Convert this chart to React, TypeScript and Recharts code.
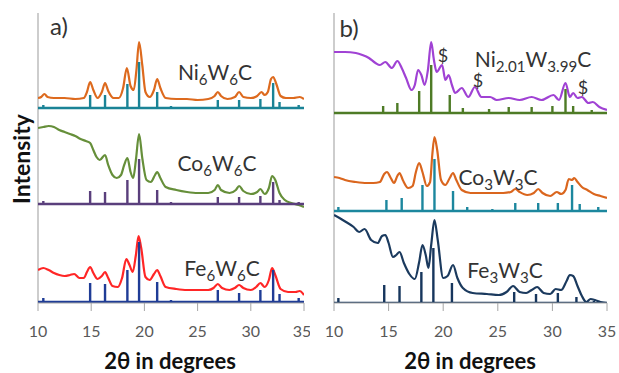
import React from 'react';
import { ComposedChart, Line, XAxis, YAxis, ReferenceLine } from 'recharts';

type Pt = [number, number];

// panel a) measured patterns (2θ, intensity offset)
const ni6w6c: Pt[] = [
  [10, 205], [10.3, 206], [10.6, 209], [10.9, 206], [11.5, 205], [12.5, 205], [13.5, 204], [14.3, 205],
  [14.6, 211], [14.9, 221], [15.2, 213], [15.6, 205], [16.0, 211], [16.3, 220], [16.6, 212], [17.1, 205],
  [17.6, 205], [18.0, 215], [18.35, 235], [18.7, 217], [19.0, 213], [19.25, 233], [19.5, 261], [19.8, 238],
  [20.1, 211], [20.5, 206], [20.9, 213], [21.2, 224], [21.5, 215], [22.0, 205], [23, 204], [24, 204],
  [25, 203], [26, 204], [26.6, 207], [26.9, 211], [27.2, 207], [27.8, 204], [28.5, 206], [28.9, 211],
  [29.3, 206], [30, 205], [30.6, 207], [31.0, 211], [31.3, 208], [31.6, 211], [31.9, 224], [32.1, 226],
  [32.4, 219], [32.8, 207], [33.3, 205], [34, 205], [34.6, 206], [35, 204],
];
const co6w6c: Pt[] = [
  [10, 175], [10.5, 176], [11, 177], [11.5, 176], [12, 173], [12.5, 171], [13, 169], [13.5, 167],
  [14, 164], [14.5, 162], [14.9, 160], [15.2, 153], [15.5, 146], [15.8, 143], [16.3, 148], [16.6, 138],
  [17.0, 128], [17.4, 125], [17.8, 128], [18.1, 138], [18.4, 145], [18.7, 131], [18.95, 125], [19.2, 143],
  [19.5, 169], [19.8, 145], [20.2, 123], [20.6, 121], [21.0, 128], [21.2, 131], [21.5, 125], [22.0, 116],
  [23, 113], [24, 111], [25, 110], [26, 110], [26.6, 113], [26.9, 118], [27.2, 113], [28, 110],
  [28.6, 113], [28.9, 117], [29.3, 112], [30, 109], [30.6, 111], [30.9, 114], [31.3, 109], [31.7, 115],
  [32.0, 127], [32.3, 123], [32.7, 110], [33.2, 103], [33.8, 100], [34.5, 98], [35, 96],
];
const fe6w6c: Pt[] = [
  [10, 33], [10.5, 35], [11, 33], [11.5, 30], [12, 28], [12.5, 27], [13.0, 28], [13.4, 29],
  [13.9, 25], [14.3, 25], [14.6, 31], [14.9, 36], [15.2, 30], [15.6, 24], [16.0, 27], [16.3, 31],
  [16.6, 25], [17.0, 17], [17.5, 16], [17.9, 25], [18.3, 44], [18.6, 38], [18.9, 31], [19.2, 48],
  [19.45, 67], [19.7, 55], [20.1, 26], [20.5, 23], [20.9, 29], [21.2, 33], [21.5, 27], [22, 16],
  [23, 14], [24, 13], [25, 13], [26, 13], [26.5, 15], [26.9, 19], [27.3, 15], [28, 13],
  [28.5, 15], [28.9, 18], [29.3, 15], [30, 13], [30.5, 16], [30.9, 20], [31.3, 16], [31.7, 23],
  [32.0, 35], [32.3, 28], [32.8, 14], [33.5, 11], [34.2, 11], [34.6, 12], [35, 8],
];

// panel a) reference sticks
const stickXa = [10.5, 14.9, 16.3, 18.4, 19.5, 21.2, 22.5, 26.9, 28.9, 30.9, 32.1, 32.7, 34.5];
const ni6w6cRef = [198, 208, 208, 219, 241, 211, 197, 203, 203, 204, 220, 201, 198];
const ni6w6cBase = 195;
const co6w6cRef = [102, 112, 111, 123, 144, 113, 101, 106, 106, 107, 121, 103, 101];
const co6w6cBase = 99;
const fe6w6cRef = [5, 20, 19, 33, 61, 21, 3, 13, 10, 13, 33, 9, 5];
const fe6w6cBase = 1;

// panel b) measured patterns
const ni2w4c: Pt[] = [
  [10, 251], [11, 251], [12, 250], [12.6, 248], [13.2, 245], [13.8, 240], [14.2, 238], [14.7, 241],
  [15.3, 235], [15.8, 242], [16.2, 235], [16.6, 225], [17.1, 213], [17.4, 218], [17.7, 233], [18.0, 228],
  [18.3, 218], [18.6, 233], [18.9, 261], [19.15, 243], [19.4, 231], [19.9, 238], [20.2, 223], [20.5, 228],
  [20.8, 218], [21.1, 210], [21.7, 215], [22.3, 206], [22.9, 216], [23.5, 206], [24.3, 206], [24.9, 203],
  [26.0, 205], [27.0, 203], [28.1, 206], [29.0, 203], [30.1, 208], [30.6, 203], [31.2, 220], [31.6, 206],
  [31.9, 210], [32.3, 205], [32.7, 206], [33.3, 200], [33.7, 201], [34.3, 196], [35, 193],
];
const co3w3c: Pt[] = [
  [10, 126], [10.5, 125], [11, 123], [12, 121], [13, 120], [13.6, 120], [14.2, 121], [14.6, 129],
  [14.85, 131], [15.2, 125], [15.5, 120], [15.8, 127], [16.0, 130], [16.3, 123], [16.8, 115], [17.2, 117],
  [17.5, 131], [17.8, 140], [18.1, 131], [18.5, 117], [18.8, 121], [19.0, 148], [19.2, 166], [19.45, 153],
  [19.8, 123], [20.2, 118], [20.6, 125], [20.9, 130], [21.2, 123], [21.7, 113], [22.5, 110], [23.5, 110],
  [24.5, 110], [25.5, 110], [26.2, 111], [26.6, 114], [27.0, 111], [27.7, 108], [28.3, 110], [28.7, 114],
  [29.1, 110], [29.8, 107], [30.4, 111], [30.8, 109], [31.2, 113], [31.5, 124], [31.8, 123], [32.0, 125],
  [32.3, 121], [32.7, 116], [33.2, 113], [33.8, 109], [34.4, 107], [35, 105],
];
const fe3w3c: Pt[] = [
  [10, 88], [10.5, 85], [11.1, 81], [11.8, 76], [12.3, 71], [12.8, 74], [13.4, 63], [14.0, 60],
  [14.4, 67], [14.7, 68], [15.0, 60], [15.4, 46], [15.7, 48], [16.0, 51], [16.4, 40], [16.9, 29],
  [17.4, 24], [17.8, 41], [18.1, 58], [18.4, 48], [18.65, 35], [18.9, 58], [19.2, 83], [19.5, 63],
  [20.0, 25], [20.4, 27], [20.9, 38], [21.3, 25], [21.8, 15], [22.7, 10], [24, 9], [25.1, 8],
  [25.8, 11], [26.4, 17], [27.0, 11], [27.6, 10], [28.1, 13], [28.6, 16], [29.2, 10], [29.8, 9],
  [30.3, 14], [30.8, 13], [31.3, 22], [31.6, 28], [31.9, 27], [32.3, 17], [32.7, 7], [33.1, 1],
  [33.5, 4], [33.9, 3], [34.4, 1], [35, 0],
];

// panel b) reference sticks
const ni2w4cRefX = [14.5, 15.8, 17.8, 18.9, 20.6, 21.8, 24.2, 26.0, 28.1, 30.0, 31.2, 31.9, 33.6];
const ni2w4cRef = [197, 200, 212, 238, 208, 195, 194, 196, 196, 197, 214, 197, 193];
const ni2w4cBase = 190;
const co3w3cRefX = [10.4, 14.8, 16.2, 18.1, 19.2, 20.9, 22.2, 24.5, 26.6, 28.7, 30.5, 31.8, 32.5, 34.2];
const co3w3cRef = [96, 103, 105, 118, 144, 112, 96, 94, 100, 100, 100, 118, 99, 96];
const co3w3cBase = 92;
const fe3w3cRefX = [10.4, 14.6, 16.0, 18.0, 19.1, 20.8, 26.5, 28.5, 30.5, 32.2, 33.8];
const fe3w3cRef = [5, 18, 17, 31, 55, 20, 11, 9, 10, 6, 2];
const fe3w3cBase = 0;

const xTicks = [10, 15, 20, 25, 30, 35];

const curve = (pts: Pt[]) => pts.map(([x, y]) => ({ x, y }));
const sticks = (xs: number[], tops: number[], base: number) => {
  const out = [{ x: 10, y: base }];
  xs.forEach((x, i) => {
    out.push({ x, y: base }, { x, y: tops[i] }, { x, y: base });
  });
  out.push({ x: 35, y: base });
  return out;
};

const FONT = 'Lato, "Open Sans", sans-serif';
const TEXT = '#333';

const Panel = ({ width, margin, series }: { width: number; margin: any; series: { data: any[]; color: string; stick?: boolean }[] }) => (
  <ComposedChart width={width} height={373} margin={margin}>
    <XAxis
      dataKey="x"
      type="number"
      domain={[10, 35]}
      ticks={xTicks}
      allowDataOverflow
      height={40}
      tickSize={8}
      tickMargin={15}
      stroke="#A6A6A6"
      tick={{ fill: '#595959', fontSize: 16, fontFamily: FONT }}
    />
    <YAxis type="number" domain={[0, 290]} hide allowDataOverflow />
    <ReferenceLine x={10} stroke="#BDBDBD" strokeWidth={1.5} />
    {series.map((s, i) => (
      <Line
        key={i}
        data={s.data}
        dataKey="y"
        type={s.stick ? 'linear' : 'monotone'}
        stroke={s.color}
        strokeWidth={s.stick ? 2.4 : 2.2}
        dot={false}
        activeDot={false}
        isAnimationActive={false}
      />
    ))}
  </ComposedChart>
);

const Label = ({ x, y, children, size = 21, bold = false, rotate = false, color = TEXT }: any) => (
  <div
    style={{
      position: 'absolute',
      left: x,
      top: y,
      transform: `translate(-50%, -50%)${rotate ? ' rotate(-90deg)' : ''}`,
      fontFamily: FONT,
      fontSize: size,
      fontWeight: bold ? 700 : 400,
      color,
      whiteSpace: 'nowrap',
      lineHeight: 1,
    }}
  >
    {children}
  </div>
);

const Sub = ({ children }: any) => (
  <span style={{ fontSize: '0.72em', position: 'relative', top: '0.3em' }}>{children}</span>
);

export default function App() {
  return (
    <div style={{ position: 'absolute', left: 0, top: 0, width: 619, height: 373, background: '#fff', overflow: 'hidden' }}>
      <div style={{ position: 'absolute', left: 0, top: 0 }}>
        <Panel
          width={310}
          margin={{ top: 13, left: 38, right: 6, bottom: 30 }}
          series={[
            { data: curve(ni6w6c), color: '#DD6A1E' },
            { data: curve(co6w6c), color: '#668F3A' },
            { data: curve(fe6w6c), color: '#FF2626' },
            { data: sticks(stickXa, ni6w6cRef, ni6w6cBase), color: '#1A8396', stick: true },
            { data: sticks(stickXa, co6w6cRef, co6w6cBase), color: '#5A3F7C', stick: true },
            { data: sticks(stickXa, fe6w6cRef, fe6w6cBase), color: '#1F3C96', stick: true },
          ]}
        />
      </div>
      <div style={{ position: 'absolute', left: 310, top: 0 }}>
        <Panel
          width={309}
          margin={{ top: 13, left: 24, right: 12, bottom: 30 }}
          series={[
            { data: curve(ni2w4c), color: '#A042D4' },
            { data: curve(co3w3c), color: '#DA661E' },
            { data: curve(fe3w3c), color: '#1B3A5E' },
            { data: sticks(ni2w4cRefX, ni2w4cRef, ni2w4cBase), color: '#4E7B26', stick: true },
            { data: sticks(co3w3cRefX, co3w3cRef, co3w3cBase), color: '#1C879E', stick: true },
            { data: sticks(fe3w3cRefX, fe3w3cRef, fe3w3cBase), color: '#17365D', stick: true },
          ]}
        />
      </div>

      <Label x={59} y={26} size={24}>a)</Label>
      <Label x={349} y={28} size={24}>b)</Label>
      <Label x={21} y={159} size={23} bold rotate color="#111">Intensity</Label>
      <Label x={170} y={361} size={22} bold color="#111">2θ in degrees</Label>
      <Label x={470} y={361} size={22} bold color="#111">2θ in degrees</Label>

      <Label x={215} y={72}>Ni<Sub>6</Sub>W<Sub>6</Sub>C</Label>
      <Label x={217} y={163}>Co<Sub>6</Sub>W<Sub>6</Sub>C</Label>
      <Label x={222} y={268}>Fe<Sub>6</Sub>W<Sub>6</Sub>C</Label>
      <Label x={533} y={59}>Ni<Sub>2.01</Sub>W<Sub>3.99</Sub>C</Label>
      <Label x={498} y={177}>Co<Sub>3</Sub>W<Sub>3</Sub>C</Label>
      <Label x={505} y={270}>Fe<Sub>3</Sub>W<Sub>3</Sub>C</Label>

      <Label x={443} y={55} size={18}>$</Label>
      <Label x={478} y={80} size={18}>$</Label>
      <Label x={583} y={87} size={18}>$</Label>
    </div>
  );
}
